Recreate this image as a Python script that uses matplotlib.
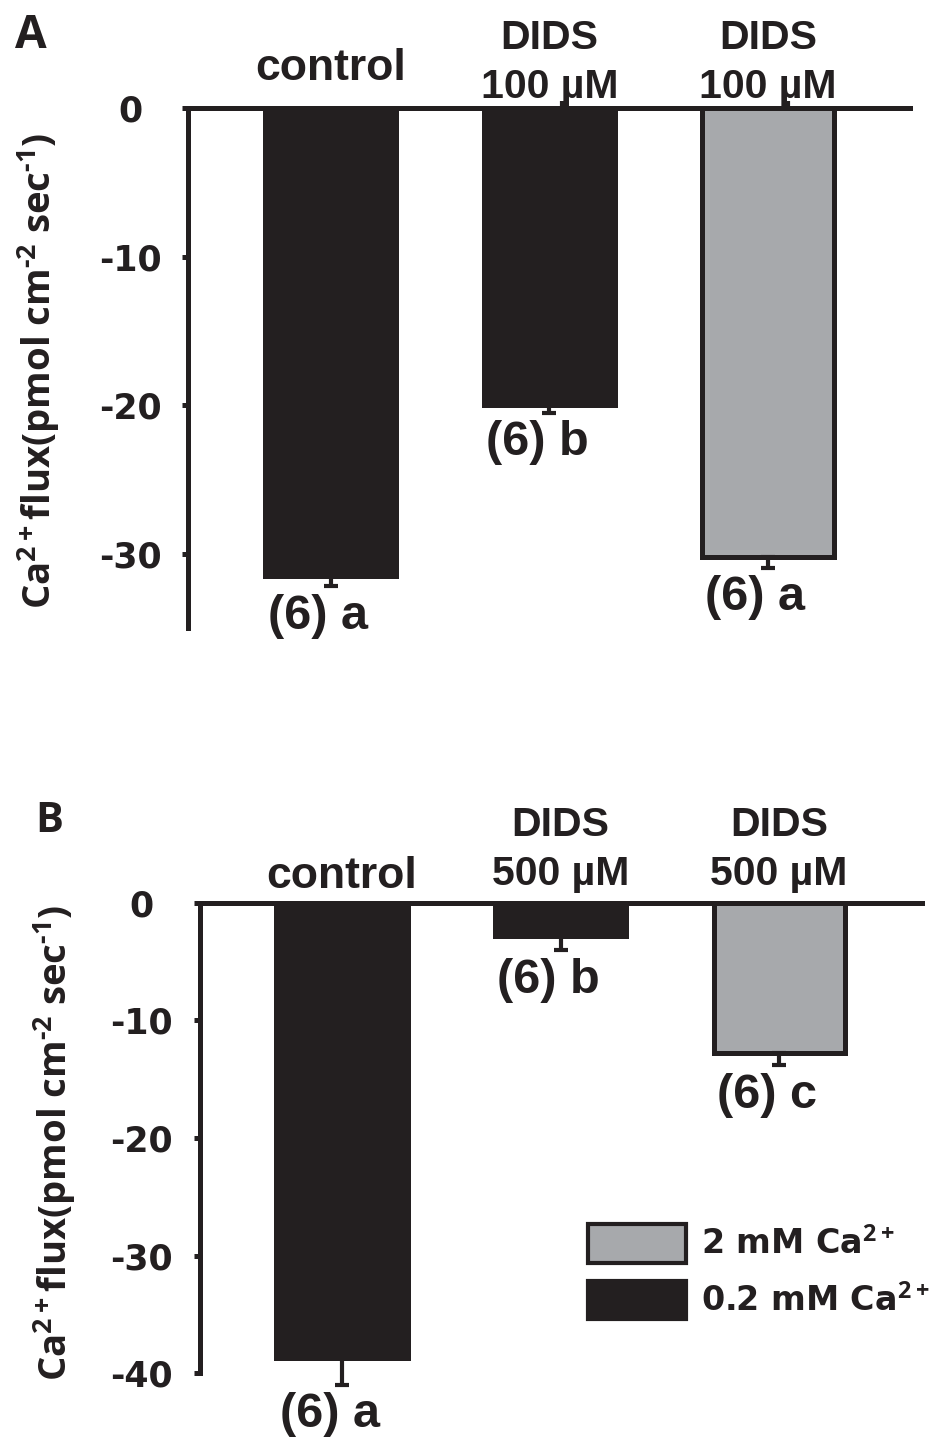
import matplotlib
matplotlib.use('Agg')
import matplotlib.pyplot as plt
from matplotlib.patches import Patch
from matplotlib.ticker import FixedLocator
from matplotlib import mathtext

plt.rcParams['mathtext.fontset'] = 'custom'
plt.rcParams['mathtext.rm'] = 'Open Sans:bold'
plt.rcParams['mathtext.bf'] = 'Open Sans:bold'
plt.rcParams['mathtext.it'] = 'Open Sans:bold'
plt.rcParams['mathtext.sf'] = 'Open Sans:bold'
plt.rcParams['axes.unicode_minus'] = False

# superscript hyphen: use \text{-} when supported, otherwise plain math minus
try:
    mathtext.MathTextParser('path').parse(r'$^{\text{-2}}$')
    SUP_M2, SUP_M1 = r'$^{\text{-2}}$', r'$^{\text{-1}}$'
except Exception:
    SUP_M2, SUP_M1 = r'$^{\mathbf{-2}}$', r'$^{\mathbf{-1}}$'

# ---------------- data ----------------
a_labels = ['control', 'DIDS\n100 µM', 'DIDS\n100 µM']
a_values = [-31.5, -20.0, -30.25]
a_errors = [0.7, 0.5, 0.7]
a_letters = ['(6) a', '(6) b', '(6) a']
a_calcium = ['0.2', '0.2', '2']
a_yticks = [0, -10, -20, -30]

b_labels = ['control', 'DIDS\n500 µM', 'DIDS\n500 µM']
b_values = [-38.7, -2.8, -12.8]
b_errors = [2.3, 1.2, 1.0]
b_letters = ['(6) a', '(6) b', '(6) c']
b_calcium = ['0.2', '0.2', '2']
b_yticks = [0, -10, -20, -30, -40]

legend_calcium = ['2', '0.2']
legend_labels = [r'2 mM Ca$^{\mathbf{2+}}$', r'0.2 mM Ca$^{\mathbf{2+}}$']
ylabel_text = r'Ca$^{\mathbf{2+}}$flux(pmol cm' + SUP_M2 + ' sec' + SUP_M1 + ')'

# ---------------- style ----------------
DARK = '#231f20'
GRAY = '#a7a9ac'
colors = {'0.2': DARK, '2': GRAY}
LW = 3.6

W, H = 932, 1446
fig = plt.figure(figsize=(W / 100, H / 100), dpi=100)


def px_axes(left, top, right, bottom):
    return fig.add_axes([left / W, 1 - bottom / H, (right - left) / W, (bottom - top) / H])


def draw_panel(ax, labels, values, errors, letters, calcium, yticks, ylim, xlim,
               label_y, tick_center_pad, top_minor):
    x = list(range(len(values)))
    ax.bar(x, values, width=0.60, color=[colors[c] for c in calcium],
           edgecolor=DARK, linewidth=LW, zorder=2)
    eb = ax.errorbar(x, values, yerr=[errors, [0] * len(errors)], fmt='none',
                     ecolor=DARK, elinewidth=3.0, capsize=5.2, capthick=3.0, zorder=3)
    for artist in eb.lines[1] + eb.lines[2]:
        artist.set_clip_on(False)
    ax.set_xlim(*xlim)
    ax.set_ylim(*ylim)
    for s in ['right', 'bottom']:
        ax.spines[s].set_visible(False)
    for s in ['left', 'top']:
        ax.spines[s].set_linewidth(LW)
        ax.spines[s].set_color(DARK)
        ax.spines[s].set_zorder(4)
    ax.set_yticks(yticks)
    ax.tick_params(axis='y', length=4.5, width=LW, color=DARK, pad=tick_center_pad,
                   labelsize=25)
    for t in ax.get_yticklabels():
        t.set_fontfamily('DejaVu Sans')
        t.set_fontweight('bold')
        t.set_horizontalalignment('center')
        t.set_color(DARK)
    ax.xaxis.set_ticks_position('top')
    ax.set_xticks([])
    if top_minor:
        ax.xaxis.set_minor_locator(FixedLocator(top_minor))
        ax.tick_params(axis='x', which='minor', length=5, width=3, color=DARK,
                       top=True, bottom=False, direction='out')
    for i, lab in enumerate(labels):
        single = '\n' not in lab
        ax.text(i, label_y[0] if single else label_y[1], lab,
                transform=ax.get_xaxis_transform(), ha='center', va='baseline',
                fontfamily='Liberation Sans', fontweight='bold',
                fontsize=32 if single else 29.5, color=DARK, linespacing=1.38)
    for i, (v, e, let) in enumerate(zip(values, errors, letters)):
        ax.annotate(let, xy=(i, v - e), xytext=(-9, -5.5), textcoords='offset points',
                    ha='center', va='top', fontfamily='Liberation Sans',
                    fontweight='bold', fontsize=35, color=DARK, annotation_clip=False)


# Panel A
axA = px_axes(188, 108, 910, 628)
draw_panel(axA, a_labels, a_values, a_errors, a_letters, a_calcium, a_yticks,
           (-35, 0), (-0.654, 2.650), (1.0538, 1.0192), 37, [1.057, 2.09])
axA.set_ylabel(ylabel_text, fontfamily='Open Sans', fontweight='bold', fontsize=27.5,
               color=DARK)
axA.yaxis.set_label_coords((62 - 188) / 722, 0.495)

# Panel B
axB = px_axes(200, 903, 922, 1373)
draw_panel(axB, b_labels, b_values, b_errors, b_letters, b_calcium, b_yticks,
           (-40, 0), (-0.650, 2.654), (1.0319, 1.0383), 38, None)
axB.set_ylabel(ylabel_text, fontfamily='Open Sans', fontweight='bold', fontsize=27.5,
               color=DARK)
axB.yaxis.set_label_coords((78 - 200) / 722, 0.49)

handles = [Patch(facecolor=colors[c], edgecolor=DARK, linewidth=3.0) for c in legend_calcium]
leg = axB.legend(handles, legend_labels, loc='upper left',
                 bbox_to_anchor=(588 / W, 1 - 1224 / H), bbox_transform=fig.transFigure,
                 frameon=False, borderpad=0, borderaxespad=0,
                 handlelength=2.95, handleheight=1.40, handletextpad=0.45,
                 labelspacing=0.55,
                 prop={'family': 'DejaVu Sans', 'weight': 'bold', 'size': 24})
for t in leg.get_texts():
    t.set_color(DARK)

# Panel letters
fig.text(15 / W, 1 - 48 / H, 'A', fontfamily='Open Sans', fontweight='bold',
         fontsize=33, va='baseline', ha='left', color=DARK)
fig.text(35 / W, 1 - 832 / H, 'B', fontfamily='Open Sans', fontweight='bold',
         fontsize=30, va='baseline', ha='left', color=DARK)

fig.savefig('out.png', dpi=100)
